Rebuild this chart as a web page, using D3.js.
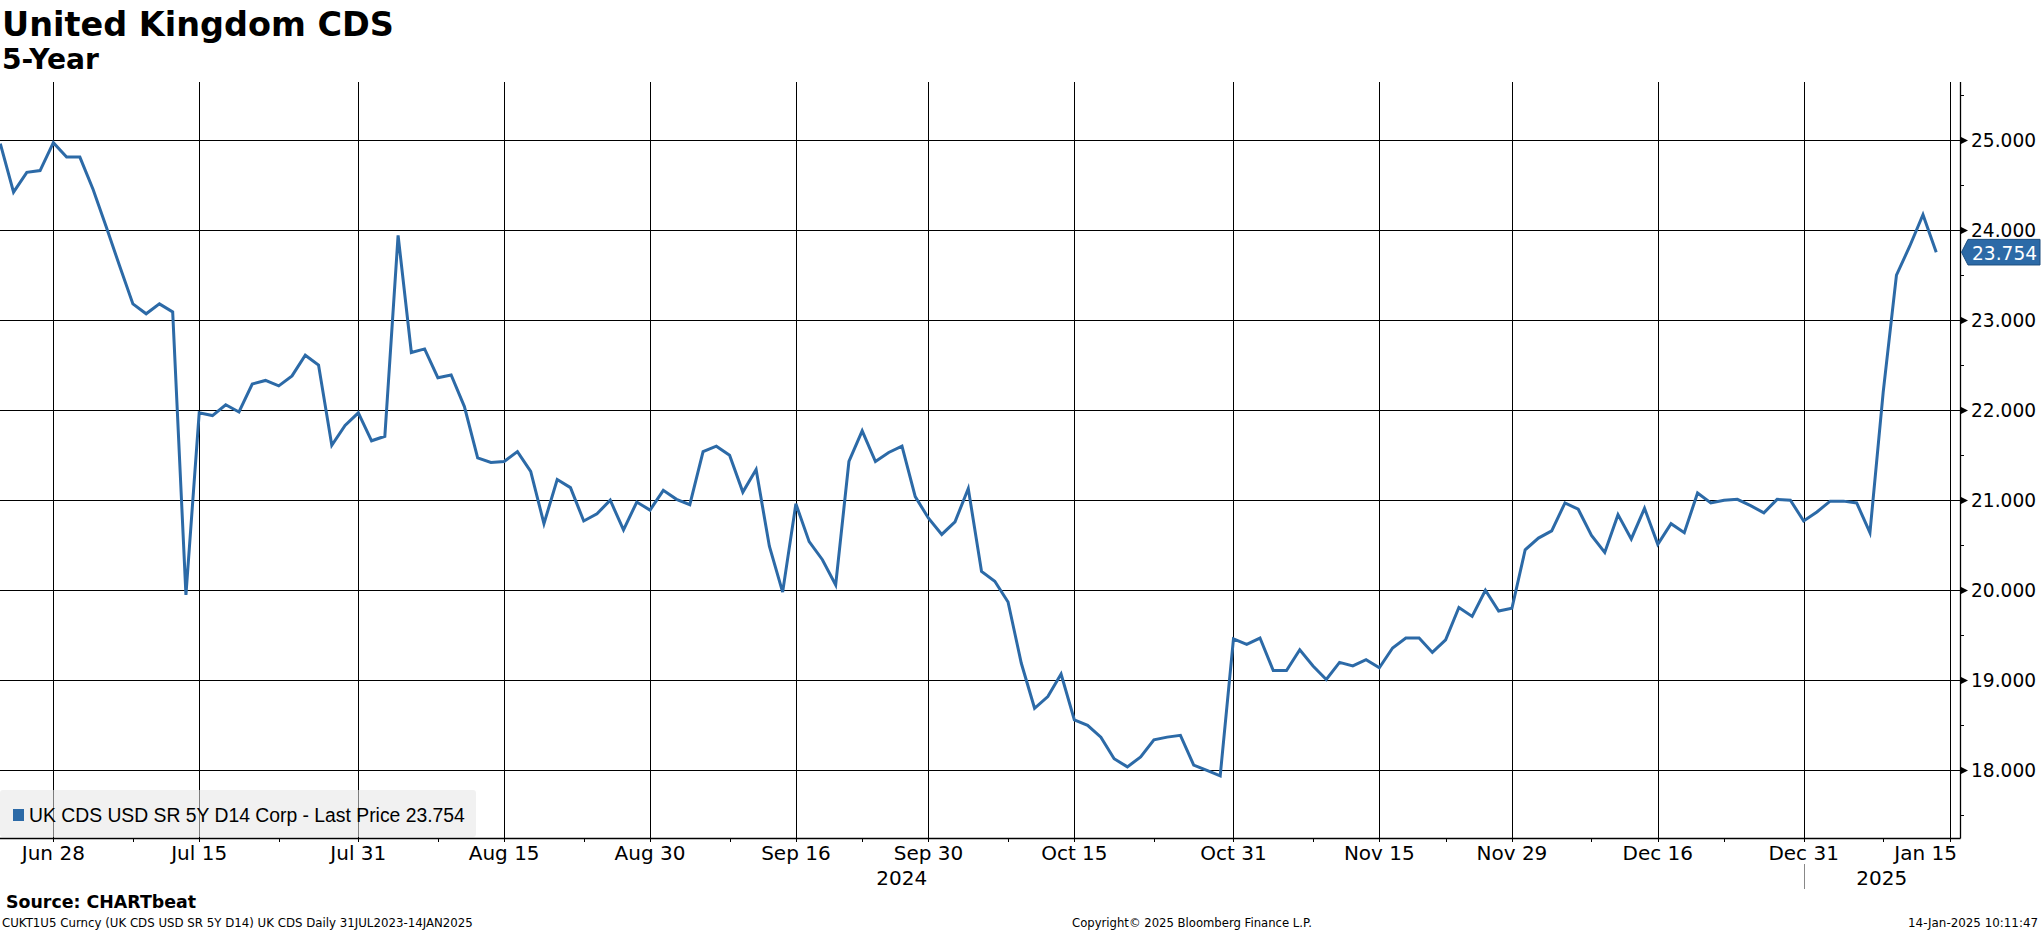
<!DOCTYPE html>
<html>
<head>
<meta charset="utf-8">
<script src="https://cdn.jsdelivr.net/npm/d3@7"></script>
<style>
  html, body { margin: 0; padding: 0; background: #fff; }
  svg { display: block; }
  text { font-family: "DejaVu Sans", sans-serif; }
</style>
</head>
<body>
<svg id="chart" width="2041" height="932"></svg>
<script>
// ---------------- data ----------------
const titleText = "United Kingdom CDS";
const subtitleText = "5-Year";
const sourceText = "Source: CHARTbeat";
const footerText = "CUKT1U5 Curncy (UK CDS USD SR 5Y D14) UK CDS  Daily 31JUL2023-14JAN2025";
const copyrightText = "Copyright\u00A9 2025 Bloomberg Finance L.P.";
const timestampText = "14-Jan-2025 10:11:47";
const legendText = "UK CDS USD SR 5Y D14 Corp - Last Price 23.754";

// daily (weekday) series, first value on 2024-06-24, last on 2025-01-14
const firstDate = "2024-06-24";
const axisEndDate = "2025-01-15";
const cdsValues = [
  24.96, 24.42, 24.64, 24.66, 24.97, 24.81, 24.81, 24.45, 24.03, 23.60,
  23.18, 23.07, 23.18, 23.09, 19.95, 21.97, 21.94, 22.06, 21.98, 22.29,
  22.33, 22.27, 22.38, 22.61, 22.50, 21.61, 21.83, 21.97, 21.66, 21.71,
  23.94, 22.64, 22.68, 22.36, 22.39, 22.04, 21.47, 21.42, 21.43, 21.54,
  21.32, 20.74, 21.23, 21.14, 20.77, 20.85, 21.00, 20.67, 20.98, 20.89,
  21.11, 21.01, 20.95, 21.54, 21.60, 21.50, 21.09, 21.34, 20.49, 19.98,
  20.96, 20.54, 20.34, 20.06, 21.43, 21.77, 21.43, 21.53, 21.60, 21.04,
  20.80, 20.62, 20.76, 21.13, 20.21, 20.10, 19.87, 19.19, 18.69, 18.82,
  19.07, 18.56, 18.50, 18.37, 18.13, 18.04, 18.15, 18.34, 18.37, 18.39,
  18.06, 18.00, 17.94, 19.46, 19.40, 19.47, 19.11, 19.11, 19.34, 19.16,
  19.01, 19.20, 19.16, 19.23, 19.14, 19.36, 19.47, 19.47, 19.31, 19.45,
  19.81, 19.71, 20.00, 19.77, 19.80, 20.45, 20.58, 20.66, 20.97, 20.90,
  20.61, 20.42, 20.84, 20.57, 20.91, 20.51, 20.74, 20.64, 21.08, 20.97,
  21.00, 21.01, 20.94, 20.86, 21.01, 21.00, 20.77, 20.87, 20.99, 20.99,
  20.97, 20.64, 22.20, 23.50, 23.82, 24.17, 23.754
];
const lastPrice = 23.754;

const majorTickDates  = ["2024-06-28","2024-07-15","2024-07-31","2024-08-15","2024-08-30","2024-09-16","2024-09-30",
                         "2024-10-15","2024-10-31","2024-11-15","2024-11-29","2024-12-16","2024-12-31","2025-01-15"];
const majorTickLabels = ["Jun 28","Jul 15","Jul 31","Aug 15","Aug 30","Sep 16","Sep 30",
                         "Oct 15","Oct 31","Nov 15","Nov 29","Dec 16","Dec 31","Jan 15"];
const minorTickDates  = ["2024-07-08","2024-07-23","2024-08-08","2024-08-23","2024-09-09","2024-09-23","2024-10-08",
                         "2024-10-23","2024-11-08","2024-11-22","2024-12-09","2024-12-23","2025-01-08"];
const yearLabels = ["2024", "2025"];
const yearBoundaryDate = "2024-12-31";

const yTicks = [18, 19, 20, 21, 22, 23, 24, 25];
const yMinorTicks = [17.5, 18.5, 19.5, 20.5, 21.5, 22.5, 23.5, 24.5, 25.5];

// ---------------- helpers ----------------
function weekdays(start, end) {
  const out = [];
  const e = new Date(end + "T00:00:00Z");
  for (let d = new Date(start + "T00:00:00Z"); d <= e; d = new Date(d.getTime() + 864e5)) {
    const w = d.getUTCDay();
    if (w !== 0 && w !== 6) out.push(d.toISOString().slice(0, 10));
  }
  return out;
}
const axisDates = weekdays(firstDate, axisEndDate);
const idxOf = new Map(axisDates.map((d, i) => [d, i]));
const series = cdsValues.map((v, i) => ({ date: axisDates[i], i, v }));

function fitWidth(sel, w) {
  const node = sel.node();
  const len = node.getComputedTextLength();
  const fs = parseFloat(sel.attr("font-size"));
  if (len > 0) sel.attr("font-size", (fs * w / len).toFixed(2));
  return sel;
}

// ---------------- layout ----------------
const plotLeft = 0, plotRight = 1960, plotTop = 82, plotBottom = 838;
const lineColor = "#2c6aa7";

const x = d3.scaleLinear().domain([0, 147]).range([0.3, 1949.5]);
const y = d3.scaleLinear().domain([17.25, 25.64]).range([838, 82.3]);
const px = v => Math.round(v) + 0.5;

const svg = d3.select("#chart");
svg.append("rect").attr("width", 2041).attr("height", 932).attr("fill", "#fff");

// titles
fitWidth(svg.append("text").attr("x", 2).attr("y", 36).attr("font-size", 34)
  .attr("font-weight", "bold").attr("fill", "#000").text(titleText), 392);
fitWidth(svg.append("text").attr("x", 2).attr("y", 69).attr("font-size", 26)
  .attr("font-weight", "bold").attr("fill", "#000").text(subtitleText), 97);

// grid
const grid = svg.append("g");
grid.selectAll("line.h").data(yTicks).join("line")
  .attr("x1", plotLeft).attr("x2", plotRight)
  .attr("y1", d => px(y(d))).attr("y2", d => px(y(d)))
  .attr("stroke", "#000").attr("stroke-width", 1);
grid.selectAll("line.v").data(majorTickDates).join("line")
  .attr("x1", d => px(x(idxOf.get(d)))).attr("x2", d => px(x(idxOf.get(d))))
  .attr("y1", plotTop).attr("y2", plotBottom + 4)
  .attr("stroke", "#000").attr("stroke-width", 1);

// x minor ticks
svg.append("g").selectAll("line").data(minorTickDates).join("line")
  .attr("x1", d => px(x(idxOf.get(d)))).attr("x2", d => px(x(idxOf.get(d))))
  .attr("y1", plotBottom).attr("y2", plotBottom + 4)
  .attr("stroke", "#000").attr("stroke-width", 1);

// axes lines
svg.append("line").attr("x1", plotLeft).attr("x2", plotRight + 0.5)
  .attr("y1", plotBottom + 0.5).attr("y2", plotBottom + 0.5)
  .attr("stroke", "#000").attr("stroke-width", 1.3);
svg.append("line").attr("x1", plotRight + 0.5).attr("x2", plotRight + 0.5)
  .attr("y1", plotTop).attr("y2", plotBottom + 0.5)
  .attr("stroke", "#000").attr("stroke-width", 1.3);

// right axis ticks and labels
const yAxis = svg.append("g");
yAxis.selectAll("path").data(yTicks).join("path")
  .attr("d", d => { const yy = px(y(d)); return `M${plotRight + 1},${yy - 3.5}L${plotRight + 8},${yy}L${plotRight + 1},${yy + 3.5}Z`; })
  .attr("fill", "#000");
yAxis.selectAll("line").data(yMinorTicks).join("line")
  .attr("x1", plotRight).attr("x2", plotRight + 4)
  .attr("y1", d => px(y(d))).attr("y2", d => px(y(d)))
  .attr("stroke", "#000").attr("stroke-width", 1);
const fmt = d3.format(".3f");
yAxis.selectAll("text").data(yTicks).join("text")
  .attr("x", 1971).attr("y", d => y(d) + 7)
  .attr("font-size", 18.6).attr("fill", "#000")
  .text(d => fmt(d));

// x labels
const xl = svg.append("g");
majorTickDates.forEach((d, k) => {
  const xx = x(idxOf.get(d));
  const last = k === majorTickDates.length - 1;
  xl.append("text")
    .attr("x", last ? 1957 : xx)
    .attr("y", 859.5)
    .attr("text-anchor", last ? "end" : "middle")
    .attr("font-size", 20).attr("fill", "#000")
    .text(majorTickLabels[k]);
});
// year labels
const bx = x(idxOf.get(yearBoundaryDate));
svg.append("line").attr("x1", px(bx)).attr("x2", px(bx)).attr("y1", 864).attr("y2", 889)
  .attr("stroke", "#888").attr("stroke-width", 1);
svg.append("text").attr("x", (plotLeft + bx) / 2).attr("y", 885).attr("text-anchor", "middle")
  .attr("font-size", 20).attr("fill", "#000").text(yearLabels[0]);
svg.append("text").attr("x", (bx + plotRight) / 2).attr("y", 885).attr("text-anchor", "middle")
  .attr("font-size", 20).attr("fill", "#000").text(yearLabels[1]);

// data line
const line = d3.line().x(d => x(d.i)).y(d => y(d.v));
svg.append("path").datum(series).attr("d", line)
  .attr("fill", "none").attr("stroke", lineColor).attr("stroke-width", 3)
  .attr("stroke-linejoin", "miter");

// last price tag
const ly = y(lastPrice);
svg.append("path")
  .attr("d", `M${plotRight + 1.5},${ly}L${plotRight + 8},${ly - 12.8}L2040,${ly - 12.8}L2040,${ly + 12.8}L${plotRight + 8},${ly + 12.8}Z`)
  .attr("fill", lineColor).attr("stroke", "#1d4f80").attr("stroke-width", 1);
svg.append("text").attr("x", 1972).attr("y", ly + 7.5)
  .attr("font-size", 18.6).attr("fill", "#fff").text(fmt(lastPrice));

// legend
const lg = svg.append("g");
lg.append("rect").attr("x", 0).attr("y", 790).attr("width", 476).attr("height", 47).attr("rx", 3)
  .attr("fill", "rgb(230,230,230)").attr("fill-opacity", 0.55);
lg.append("rect").attr("x", 13).attr("y", 809).attr("width", 11).attr("height", 12).attr("fill", lineColor);
fitWidth(lg.append("text").attr("x", 29).attr("y", 821.5).attr("font-size", 19)
  .style("font-family", "'Liberation Sans', Arial, sans-serif").attr("fill", "#000").text(legendText), 436);

// footer
fitWidth(svg.append("text").attr("x", 6).attr("y", 908.3).attr("font-size", 17.3)
  .attr("font-weight", "bold").attr("fill", "#000").text(sourceText), 190);
fitWidth(svg.append("text").attr("x", 2).attr("y", 927).attr("font-size", 11.5)
  .attr("fill", "#000").text(footerText), 471);
fitWidth(svg.append("text").attr("x", 1072).attr("y", 927).attr("font-size", 11.5)
  .attr("fill", "#000").text(copyrightText), 240);
const ts = svg.append("text").attr("x", 2038).attr("y", 927).attr("font-size", 11.5)
  .attr("text-anchor", "end").attr("fill", "#000").text(timestampText);
fitWidth(ts, 130);
</script>
</body>
</html>
